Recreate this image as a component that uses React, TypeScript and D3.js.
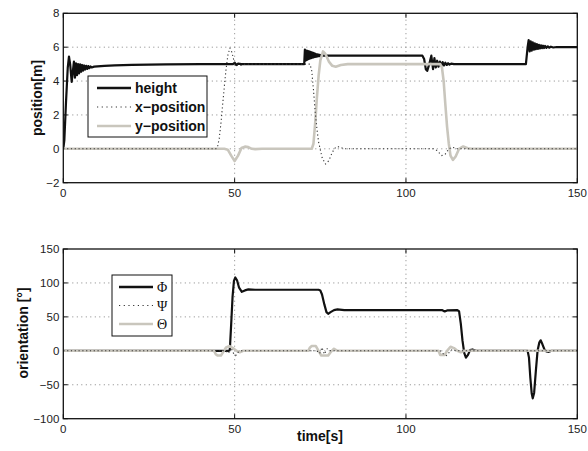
import React from "react";
import * as d3 from "d3";

type P = [number, number];

// ---------- data ----------
const xTicks = [0, 50, 100, 150];
const topYTicks = [-2, 0, 2, 4, 6, 8];
const botYTicks = [-100, -50, 0, 50, 100, 150];

const topLegend = ["height", "x\u2212position", "y\u2212position"];
const botLegend = ["\u03A6", "\u03A8", "\u0398"];

const heightSeries: P[] = [
  [0, 0], [0.3, 0.5], [0.8, 2.8], [1.3, 4.8], [1.65, 5.45], [2.0, 5.0], [2.45, 3.95],
  [2.8, 4.6], [3.1, 5.15], [3.4, 4.2], [3.7, 5.05], [4.0, 4.35], [4.3, 5.0], [4.6, 4.45],
  [4.9, 4.98], [5.2, 4.55], [5.5, 4.95], [5.8, 4.62], [6.1, 4.92], [6.4, 4.68], [6.7, 4.9],
  [7.0, 4.72], [7.3, 4.88], [7.6, 4.76], [7.9, 4.86], [8.3, 4.8], [9, 4.85], [10, 4.87],
  [12, 4.9], [15, 4.93], [20, 4.96], [30, 4.99], [40, 5.0], [49.5, 5.0], [50, 5.08],
  [50.5, 4.95], [51, 5.03], [52, 5.0], [70.3, 5.0],
  [70.5, 5.85], [70.7, 5.2], [70.9, 5.8], [71.1, 5.25], [71.3, 5.78], [71.5, 5.3],
  [71.7, 5.75], [71.9, 5.32], [72.1, 5.72], [72.3, 5.35], [72.5, 5.7], [72.7, 5.38],
  [72.9, 5.66], [73.1, 5.4], [73.3, 5.63], [73.5, 5.42], [73.7, 5.6], [73.9, 5.44],
  [74.1, 5.58], [74.3, 5.46], [74.5, 5.56], [74.7, 5.47], [74.9, 5.54], [75.1, 5.48],
  [75.3, 5.53], [75.6, 5.5], [104.8, 5.5], [105.3, 5.3], [105.8, 4.7], [106.2, 4.6],
  [106.8, 5.0], [107.4, 5.5], [107.9, 4.7], [108.3, 5.35], [108.7, 4.8], [109.1, 5.2],
  [109.5, 4.85], [109.9, 5.15], [110.3, 4.9], [110.7, 5.12], [111.1, 4.92], [111.5, 5.08],
  [111.9, 4.95], [112.3, 5.05], [112.7, 4.97], [113.2, 5.03], [114, 5.0], [135.0, 5.0],
  [135.5, 6.0], [135.8, 6.42], [136.1, 5.75], [136.4, 6.35], [136.7, 5.8], [137.0, 6.28],
  [137.3, 5.85], [137.6, 6.22], [137.9, 5.88], [138.2, 6.18], [138.5, 5.9], [138.8, 6.14],
  [139.1, 5.92], [139.4, 6.11], [139.7, 5.94], [140.0, 6.09], [140.3, 5.95], [140.6, 6.07],
  [141, 5.96], [141.4, 6.05], [141.8, 5.97], [142.3, 6.03], [143, 5.98], [144, 6.01],
  [145, 6.0], [150, 6.0],
];

const xPosSeries: P[] = [
  [0, 0], [44.5, 0], [45, 0.1], [45.5, 0.6], [46, 1.5], [46.5, 2.6], [47, 3.7], [47.5, 4.7],
  [48, 5.5], [48.6, 5.95], [49.2, 5.7], [49.8, 5.2], [50.5, 4.95], [51.5, 4.9], [53, 5.0],
  [72, 5.0], [72.5, 4.6], [73, 3.5], [73.5, 2.2], [74, 1.2], [74.5, 0.4], [75.5, -0.5],
  [76.5, -0.9], [77.5, -0.7], [78.5, -0.2], [79.5, 0.1], [80.5, 0.12], [82, 0], [108, 0],
  [109, -0.1], [110.5, -0.4], [111.5, -0.3], [112.5, 0], [113.5, 0.1], [115, 0], [150, 0],
];

const yPosSeries: P[] = [
  [0, 0], [47, 0], [48, -0.05], [49, -0.4], [50, -0.72], [51, -0.4], [52, 0.05], [53, 0.13],
  [54, 0.1], [55, 0], [56, -0.02], [58, 0], [72.5, 0], [73, 0.3], [73.5, 1.5], [74, 3],
  [74.5, 4.3], [75, 5.2], [75.8, 5.75], [76.5, 5.6], [77.5, 5.15], [78.5, 4.9], [79.5, 4.85],
  [81, 4.95], [83, 5.0], [110, 5.0], [110.5, 4.8], [111, 4], [111.5, 2.6], [112, 1.3],
  [112.5, 0.3], [113, -0.4], [113.7, -0.65], [114.5, -0.45], [115.5, 0], [116.7, 0.14],
  [118, 0.03], [119, 0], [150, 0],
];

const phiSeries: P[] = [
  [0, 0], [48.3, 0], [48.6, 2], [49.0, 40], [49.4, 80], [49.8, 103], [50.2, 108], [50.7, 104],
  [51.3, 93], [52.1, 87], [53, 89], [54, 90.5], [56, 90], [74.5, 90], [75, 89], [75.5, 83],
  [76.2, 68], [76.8, 57], [77.3, 54.5], [78, 57], [79, 60], [80, 61], [82, 60], [110.5, 60],
  [111.3, 58], [112, 59.5], [115, 60], [115.5, 58], [116, 40], [116.5, 15], [117, -3],
  [117.5, -10], [118.1, -6], [118.7, 1], [119.4, 2], [120.5, 0], [135.5, 0], [135.9, -10],
  [136.3, -40], [136.7, -63], [137.0, -70], [137.4, -62], [137.9, -30], [138.4, 0],
  [138.9, 12], [139.3, 15.5], [139.8, 10], [140.4, 2], [141, -1], [141.7, -1.5], [142.5, 0],
  [150, 0],
];

const psiSeries: P[] = [
  [0, 0], [47.5, 0], [48.2, -4], [48.9, 5], [49.6, -3], [50.3, -7], [51, -2], [52, 0], [74, 0],
  [74.8, -4], [75.5, 5], [76.2, -5], [77, 3], [78, 0], [110, 0], [111, -5], [111.8, -7],
  [112.5, -3], [113.5, 2], [114.5, 0], [150, 0],
];

const thetaSeries: P[] = [
  [0, 0], [44, 0], [44.5, -5], [45, -7], [46, -7], [46.5, -3], [47.5, 5], [48.5, 7], [49.5, 4],
  [50.5, 0], [51.5, -2], [52.5, 0], [71.5, 0], [72, 5], [72.5, 7], [73.7, 7], [74.5, 0],
  [75.3, -7], [77.3, -7], [78, -2], [79, 3], [80, 0], [109.5, 0], [110, -6], [111.3, -6],
  [112, 0], [113, 6], [114, 4], [115, 0], [116, -2], [117, 0], [150, 0],
];

// ---------- styles ----------
const BLACK = "#111";
const GRAY = "#c9c6bd";
const DOT = "#333";
const SANS = "'Liberation Sans', Arial, Helvetica, sans-serif";
const SERIF = "'Liberation Serif', 'Times New Roman', serif";

const X0 = 63.3, X1 = 577.3;

type Panel = {
  y0: number; y1: number; domain: [number, number]; ticks: number[];
};

function Axes({ p, x, y, id }: { p: Panel; x: d3.ScaleLinear<number, number>; y: d3.ScaleLinear<number, number>; id: string }) {
  const tl = 4.5;
  return (
    <g>
      {xTicks.slice(1, -1).map((t) => (
        <line key={"gx" + t} x1={x(t)} x2={x(t)} y1={p.y0} y2={p.y1} stroke="#777" strokeWidth={0.9} strokeDasharray="1,3.5" />
      ))}
      {p.ticks.slice(1, -1).map((t) => (
        <line key={"gy" + t} x1={X0} x2={X1} y1={y(t)} y2={y(t)} stroke="#777" strokeWidth={0.9} strokeDasharray="1,3.5" />
      ))}
      {xTicks.map((t) => (
        <g key={"tx" + t}>
          <line x1={x(t)} x2={x(t)} y1={p.y0} y2={p.y0 - tl} stroke={BLACK} strokeWidth={1} />
          <line x1={x(t)} x2={x(t)} y1={p.y1} y2={p.y1 + tl} stroke={BLACK} strokeWidth={1} />
          <text x={x(t)} y={p.y0 + 14} textAnchor="middle" fontFamily={SANS} fontSize={11.5} fill="#222">{t}</text>
        </g>
      ))}
      {p.ticks.map((t) => (
        <g key={"ty" + t}>
          <line x1={X0} x2={X0 + tl} y1={y(t)} y2={y(t)} stroke={BLACK} strokeWidth={1} />
          <line x1={X1} x2={X1 - tl} y1={y(t)} y2={y(t)} stroke={BLACK} strokeWidth={1} />
          <text x={X0 - 4} y={y(t)} dy="0.35em" textAnchor="end" fontFamily={SANS} fontSize={11.5} fill="#222">{t < 0 ? "\u2212" + Math.abs(t) : t}</text>
        </g>
      ))}
    </g>
  );
}

export default function App() {
  const topP: Panel = { y0: 182.7, y1: 13.3, domain: [-2, 8], ticks: topYTicks };
  const botP: Panel = { y0: 418.7, y1: 249, domain: [-100, 150], ticks: botYTicks };
  const x = d3.scaleLinear().domain([0, 150]).range([X0, X1]);
  const yT = d3.scaleLinear().domain(topP.domain).range([topP.y0, topP.y1]);
  const yB = d3.scaleLinear().domain(botP.domain).range([botP.y0, botP.y1]);
  const lineT = d3.line<P>().x((d) => x(d[0])).y((d) => yT(d[1]));
  const lineB = d3.line<P>().x((d) => x(d[0])).y((d) => yB(d[1]));

  const legendRow = (
    yy: number, lx: number, label: string, kind: number, serif: boolean,
  ) => (
    <g key={label}>
      <line x1={lx} x2={lx + 34} y1={yy} y2={yy}
        stroke={kind === 0 ? BLACK : kind === 1 ? DOT : GRAY}
        strokeWidth={kind === 0 ? 2.3 : kind === 1 ? 1.2 : 2.6}
        strokeDasharray={kind === 1 ? "1.2,3.5" : undefined} />
      <text x={lx + 38} y={yy} dy="0.36em" fontFamily={serif ? SERIF : SANS}
        fontWeight={serif ? "normal" : "bold"} fontSize={serif ? 14 : 14} fill="#111">{label}</text>
    </g>
  );

  return (
    <svg width={588} height={451} style={{ position: "absolute", left: 0, top: 0, background: "#fff" }}>
      <defs>
        <clipPath id="clipT"><rect x={X0} y={topP.y1} width={X1 - X0} height={topP.y0 - topP.y1} /></clipPath>
        <clipPath id="clipB"><rect x={X0} y={botP.y1} width={X1 - X0} height={botP.y0 - botP.y1} /></clipPath>
      </defs>
      <rect x={0} y={0} width={588} height={451} fill="#fff" />

      {/* top panel */}
      <Axes p={topP} x={x} y={yT} id="t" />
      <g clipPath="url(#clipT)" fill="none" strokeLinejoin="round">
        <path d={lineT(heightSeries) || ""} stroke={BLACK} strokeWidth={2.2} />
        <path d={lineT(yPosSeries) || ""} stroke={GRAY} strokeWidth={2.6} />
        <path d={lineT(xPosSeries) || ""} stroke={DOT} strokeWidth={1.1} strokeDasharray="1.2,2.6" />
      </g>
      <rect x={X0} y={topP.y1} width={X1 - X0} height={topP.y0 - topP.y1} fill="none" stroke={BLACK} strokeWidth={1.3} />
      <g>
        <rect x={88} y={76} width={119} height={61} fill="#fff" stroke={BLACK} strokeWidth={1} />
        {topLegend.map((l, i) => legendRow(88 + i * 19, 97, l, i, false))}
      </g>
      <text transform={`translate(37,98) rotate(-90)`} textAnchor="middle" dy="0.35em" fontFamily={SANS} fontWeight="bold" fontSize={14} fill="#111">position[m]</text>

      {/* bottom panel */}
      <Axes p={botP} x={x} y={yB} id="b" />
      <g clipPath="url(#clipB)" fill="none" strokeLinejoin="round">
        <path d={lineB(phiSeries) || ""} stroke={BLACK} strokeWidth={2.2} />
        <path d={lineB(thetaSeries) || ""} stroke={GRAY} strokeWidth={2.6} />
        <path d={lineB(psiSeries) || ""} stroke={DOT} strokeWidth={1.1} strokeDasharray="1.2,2.6" />
      </g>
      <rect x={X0} y={botP.y1} width={X1 - X0} height={botP.y0 - botP.y1} fill="none" stroke={BLACK} strokeWidth={1.3} />
      <g>
        <rect x={112} y={275} width={60} height={61} fill="#fff" stroke={BLACK} strokeWidth={1} />
        {botLegend.map((l, i) => legendRow(287 + i * 18.5, 119, l, i, true))}
      </g>
      <text transform={`translate(23,333) rotate(-90)`} textAnchor="middle" dy="0.35em" fontFamily={SANS} fontWeight="bold" fontSize={14} fill="#111">orientation [°]</text>
      <text x={320} y={441} textAnchor="middle" fontFamily={SANS} fontWeight="bold" fontSize={14} fill="#111">time[s]</text>
    </svg>
  );
}
